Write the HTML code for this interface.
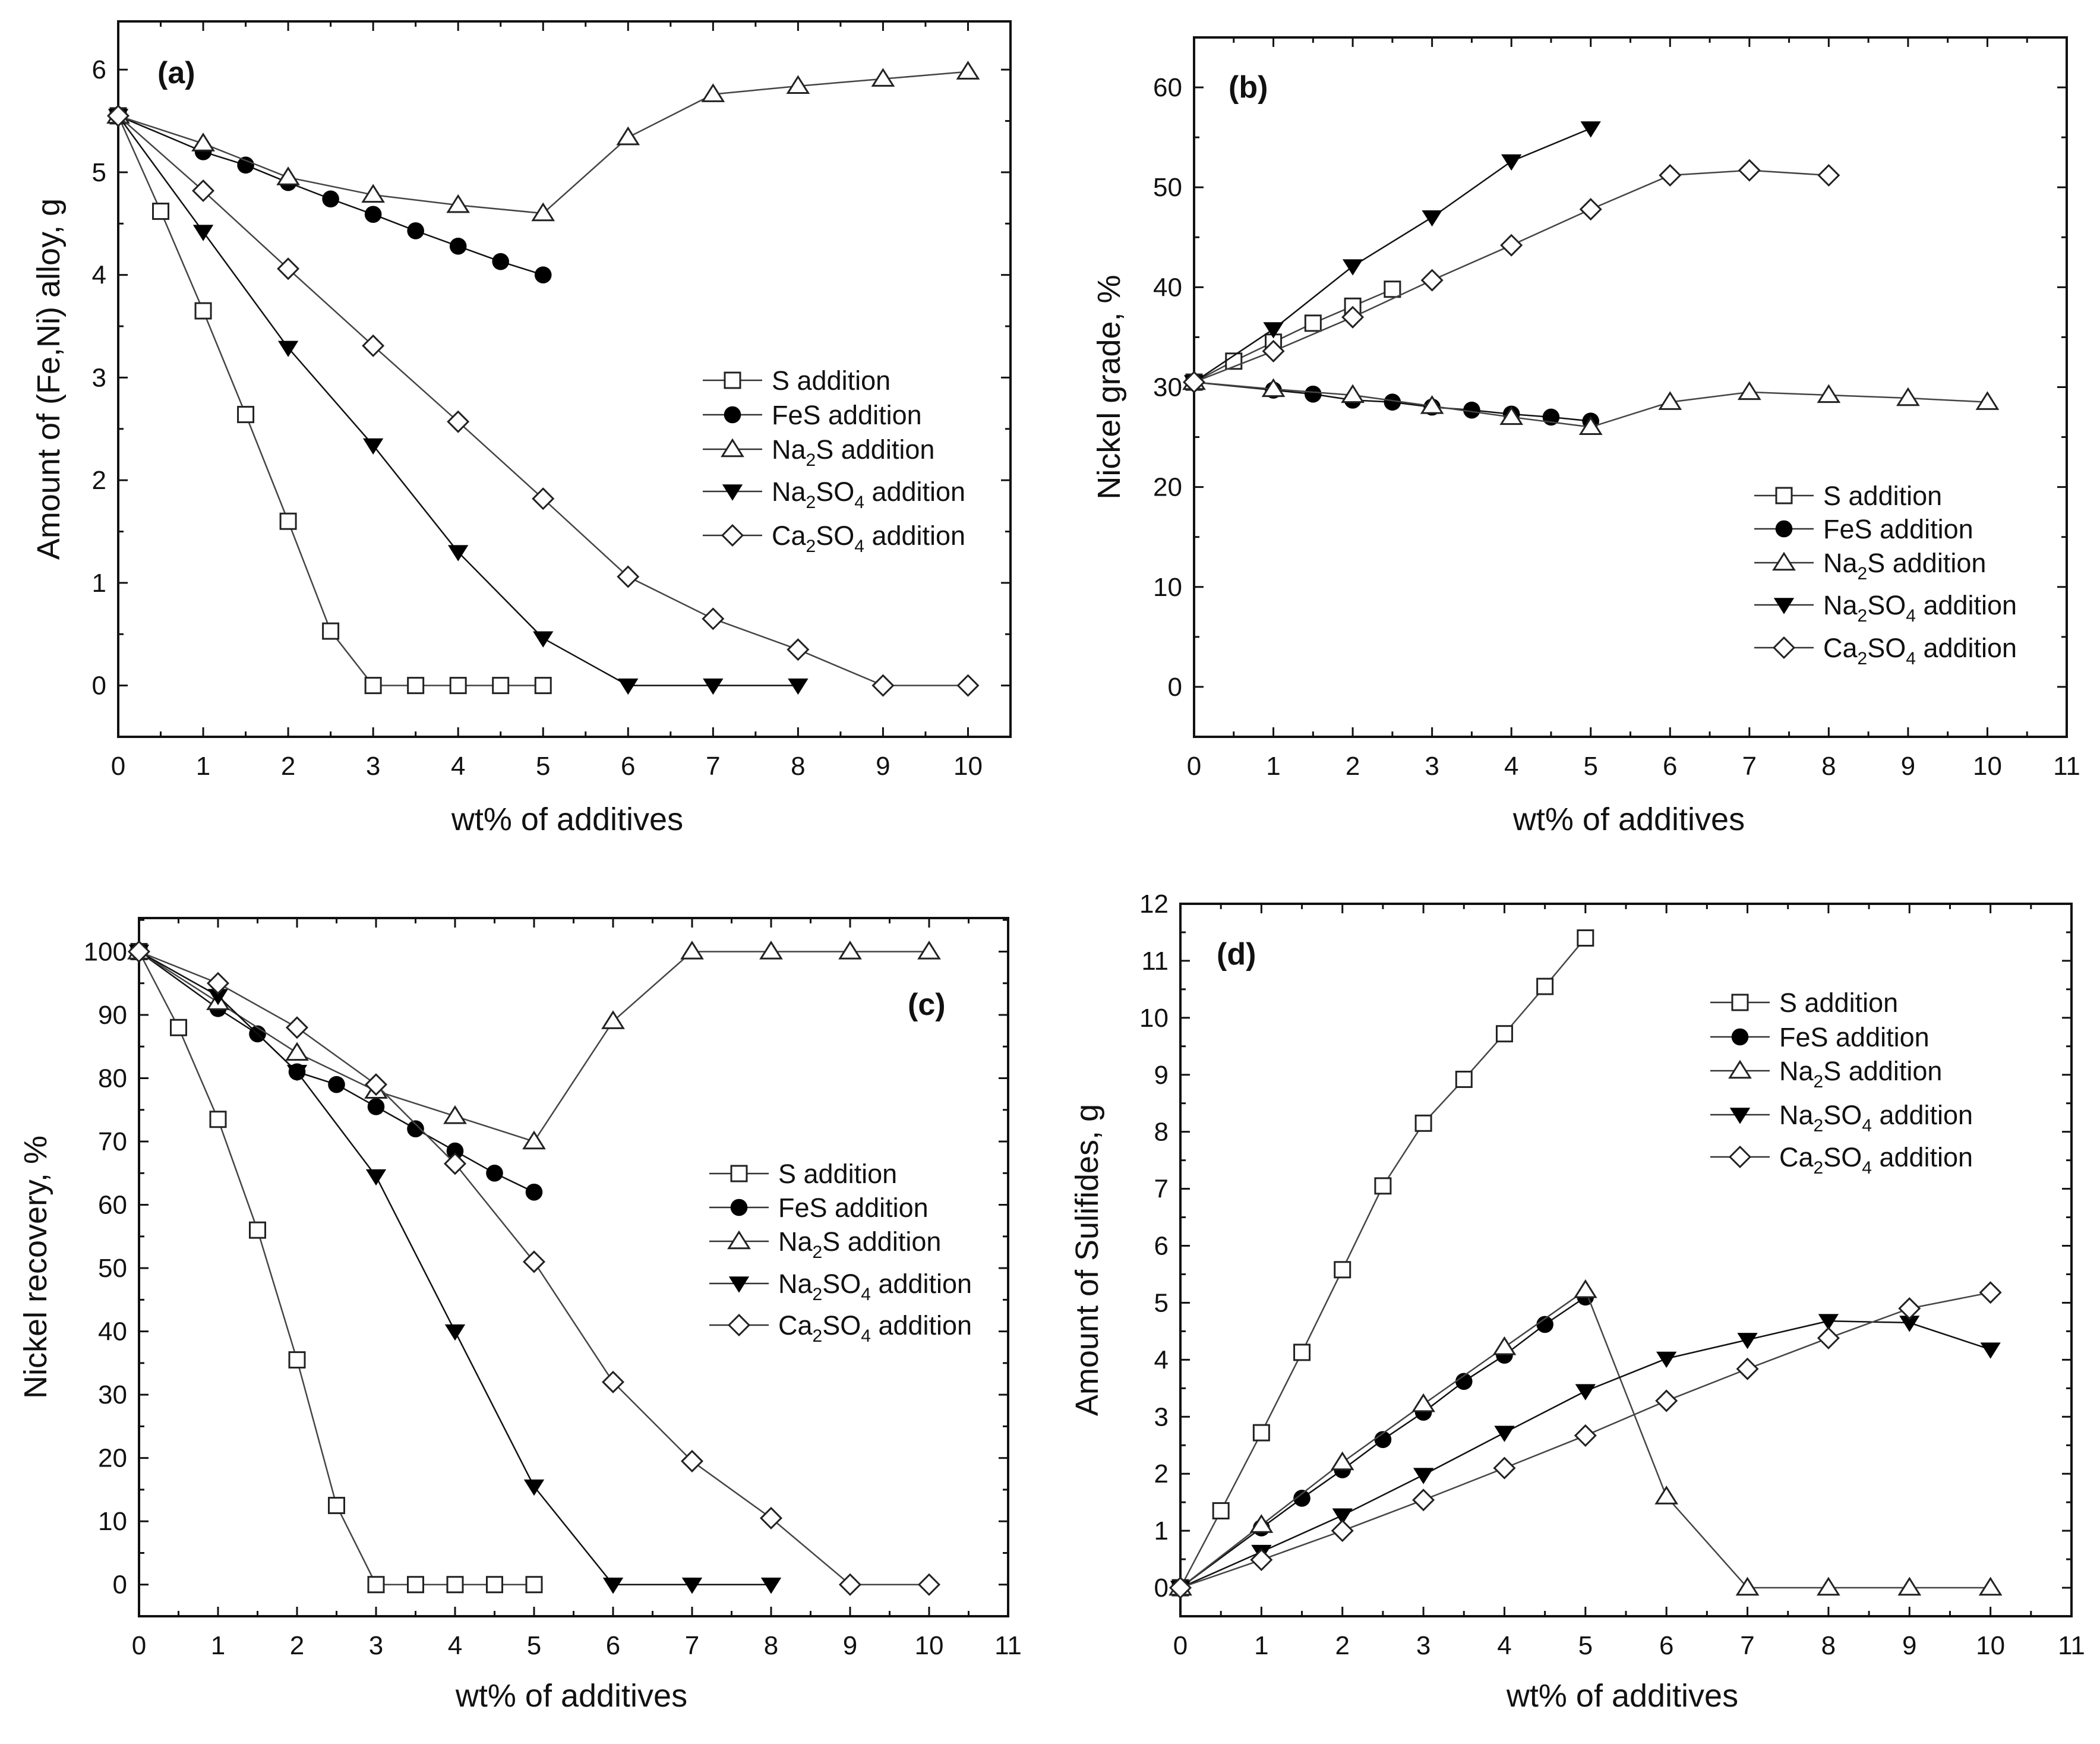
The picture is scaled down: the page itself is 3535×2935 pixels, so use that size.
<!DOCTYPE html>
<html><head><meta charset="utf-8"><style>
html,body{margin:0;padding:0;background:#fff}
svg{display:block}
text{font-family:"Liberation Sans",Arial,sans-serif;fill:#111}
</style></head><body>
<svg id="fig" width="3535" height="2935" viewBox="0 0 3535 2935" xmlns="http://www.w3.org/2000/svg"></svg>
<script>
// ---- data ----
const xHalf5 = [0,0.5,1,1.5,2,2.5,3,3.5,4,4.5,5];
const xFeS = [0,1,1.5,2,2.5,3,3.5,4,4.5,5];
const xInt10 = [0,1,2,3,4,5,6,7,8,9,10];
const xInt8 = [0,1,2,3,4,5,6,7,8];
const xInt5 = [0,1,2,3,4,5];
const xS_b = [0,0.5,1,1.5,2,2.5];

const aS = [5.55,4.62,3.65,2.64,1.6,0.53,0,0,0,0,0];
const aFeS = [5.55,5.2,5.07,4.9,4.74,4.59,4.43,4.28,4.13,4.0];
const aNa2S = [5.55,5.28,4.95,4.78,4.68,4.6,5.34,5.76,5.84,5.91,5.98];
const aNa2SO4 = [5.55,4.42,3.29,2.34,1.3,0.46,0,0,0];
const aCaSO4 = [5.55,4.82,4.06,3.31,2.57,1.82,1.06,0.65,0.35,0,0];

const bS = [30.5,32.6,34.5,36.4,38.1,39.8];
const bFeS = [30.5,29.7,29.3,28.7,28.5,28.0,27.7,27.3,27.0,26.6];
const bNa2S = [30.5,29.8,29.2,28.1,27.0,26.0,28.5,29.5,29.2,28.9,28.5];
const bNa2SO4 = [30.5,35.8,42.1,47.0,52.6,55.9];
const bCaSO4 = [30.5,33.6,37.0,40.7,44.2,47.8,51.2,51.7,51.2];

const cS = [100,88,73.5,56,35.5,12.5,0,0,0,0,0];
const cFeS = [100,91,87,81,79,75.5,72,68.5,65,62];
const cNa2S = [100,92,84,78,74,70,89,100,100,100,100];
const cNa2SO4 = [100,93,81,64.5,40,15.5,0,0,0];
const cCaSO4 = [100,95,88,79,66.5,51,32,19.5,10.5,0,0];

const dS = [0,1.35,2.72,4.13,5.58,7.05,8.15,8.92,9.72,10.55,11.4];
const dFeS = [0,1.05,1.57,2.07,2.6,3.08,3.62,4.08,4.62,5.1];
const dNa2S = [0,1.1,2.2,3.22,4.22,5.22,1.6,0,0,0,0];
const dNa2SO4 = [0,0.63,1.27,1.98,2.72,3.45,4.02,4.35,4.68,4.65,4.18];
const dCaSO4 = [0,0.49,1.0,1.54,2.1,2.67,3.28,3.84,4.38,4.9,5.18];

const xTicksA = [0,1,2,3,4,5,6,7,8,9,10];
const xTicks11 = [0,1,2,3,4,5,6,7,8,9,10,11];
const yTicksA = [0,1,2,3,4,5,6];
const yTicksB = [0,10,20,30,40,50,60];
const yTicksC = [0,10,20,30,40,50,60,70,80,90,100];
const yTicksD = [0,1,2,3,4,5,6,7,8,9,10,11,12];

const NS='http://www.w3.org/2000/svg';
const svg=document.getElementById('fig');
function el(tag,attrs,parent){const e=document.createElementNS(NS,tag);for(const k in attrs)e.setAttribute(k,attrs[k]);(parent||svg).appendChild(e);return e;}

function marker(g,type,cx,cy,s){
  let m;
  if(type==='sq'){m=el('rect',{x:cx-s/2,y:cy-s/2,width:s,height:s,fill:'#fff',stroke:'#222','stroke-width':3},g);}
  else if(type==='ci'){m=el('circle',{cx:cx,cy:cy,r:s*0.55,fill:'#000'},g);}
  else if(type==='tu'){const h=s*0.6;m=el('polygon',{points:`${cx},${cy-h} ${cx-h*1.1},${cy+h*0.75} ${cx+h*1.1},${cy+h*0.75}`,fill:'#fff',stroke:'#222','stroke-width':3},g);}
  else if(type==='td'){const h=s*0.6;m=el('polygon',{points:`${cx},${cy+h} ${cx-h*1.1},${cy-h*0.75} ${cx+h*1.1},${cy-h*0.75}`,fill:'#000'},g);}
  else {const h=s*0.65;m=el('polygon',{points:`${cx},${cy-h} ${cx+h},${cy} ${cx},${cy+h} ${cx-h},${cy}`,fill:'#fff',stroke:'#222','stroke-width':3},g);}
  
  
  return m;
}

function legendLabel(g,x,y,parts){
  const t=el('text',{x:x,y:y,'font-size':45},g);
  parts.forEach(p=>{
    const ts=el('tspan',{},t);
    if(p.sub){ts.setAttribute('font-size',30);ts.setAttribute('dy',12);}
    else if(p.after){ts.setAttribute('dy',-12);}
    ts.textContent=p.t;
  });
  return t;
}

function panel(cfg){
  const g=el('g',{});
  
  
  const {L,R,T,B,xmin,xmax,ymin,ymax}=cfg;
  const sx=v=>L+(v-xmin)/(xmax-xmin)*(R-L);
  const sy=v=>B-(v-ymin)/(ymax-ymin)*(B-T);
  const frame=el('rect',{x:L,y:T,width:R-L,height:B-T,fill:'none',stroke:'#111','stroke-width':4},g);
  
  
  for(let v=xmin;v<=xmax+1e-9;v+=0.5){
    const major=Math.abs(v-Math.round(v))<1e-9;const len=major?16:9;const x=sx(v);
    el('line',{x1:x,y1:B,x2:x,y2:B-len,stroke:'#111','stroke-width':3},g);
    el('line',{x1:x,y1:T,x2:x,y2:T+len,stroke:'#111','stroke-width':3},g);
  }
  cfg.xticks.forEach(v=>{const t=el('text',{x:sx(v),y:B+64,'font-size':44,'text-anchor':'middle'},g);t.textContent=v;
    });
  const ystep=cfg.ystep;
  for(let v=ymin;v<=ymax+1e-9;v+=ystep/2){
    const major=Math.abs(v/ystep-Math.round(v/ystep))<1e-9;const len=major?16:9;const y=sy(v);
    el('line',{x1:L,y1:y,x2:L+len,y2:y,stroke:'#111','stroke-width':3},g);
    el('line',{x1:R,y1:y,x2:R-len,y2:y,stroke:'#111','stroke-width':3},g);
  }
  cfg.yticks.forEach(v=>{const t=el('text',{x:L-20,y:sy(v)+15,'font-size':44,'text-anchor':'end'},g);t.textContent=v;
    });
  const xt=el('text',{x:cfg.xtx,y:cfg.xty,'font-size':54,'text-anchor':'middle'},g);xt.textContent='wt% of additives';
  
  const yc=(T+B)/2;
  const yt=el('text',{x:cfg.ytx,y:yc,'font-size':54,'text-anchor':'middle',transform:`rotate(-90 ${cfg.ytx} ${yc})`},g);yt.textContent=cfg.ytitle;
  
  const pl=el('text',{x:cfg.lx,y:cfg.ly,'font-size':52,'font-weight':'bold'},g);pl.textContent=cfg.label;
  
  cfg.series.forEach(s=>{
    const sg=el('g',{},g);
    
    
    const pts=s.x.map((xv,i)=>sx(xv)+','+sy(s.y[i])).join(' ');
    el('polyline',{points:pts,fill:'none',stroke:s.m==='ci'||s.m==='td'?'#111':'#444','stroke-width':2.5},sg);
    s.x.forEach((xv,i)=>marker(sg,s.m,sx(xv),sy(s.y[i]),26));
  });
  const lg=el('g',{},g);
  
  
  const names=[[{t:'S addition'}],[{t:'FeS addition'}],[{t:'Na'},{t:'2',sub:1},{t:'S addition',after:1}],
    [{t:'Na'},{t:'2',sub:1},{t:'SO',after:1},{t:'4',sub:1},{t:' addition',after:1}],
    [{t:'Ca'},{t:'2',sub:1},{t:'SO',after:1},{t:'4',sub:1},{t:' addition',after:1}]];
  const mk=['sq','ci','tu','td','di'];
  cfg.legY.forEach((y,i)=>{
    const e=el('g',{},lg);
    
    
    el('line',{x1:cfg.legX,y1:y,x2:cfg.legX+100,y2:y,stroke:'#333','stroke-width':2.5},e);
    marker(e,mk[i],cfg.legX+50,y,26);
    legendLabel(e,cfg.legX+116,y+16,names[i]);
  });
}

panel({name:'panel-a',L:199,R:1701,T:36,B:1240,xmin:0,xmax:10.5,ymin:-0.5,ymax:6.47,ystep:1,
  xticks:xTicksA,yticks:yTicksA,xtx:955,xty:1397,ytx:100,ytitle:'Amount of (Fe,Ni) alloy, g',label:'(a)',lx:265,ly:140,
  legX:1183,legY:[640,698,756,827,901],
  series:[{key:'s',m:'sq',x:xHalf5,y:aS},{key:'fes',m:'ci',x:xFeS,y:aFeS},{key:'na2s',m:'tu',x:xInt10,y:aNa2S},
  {key:'na2so4',m:'td',x:xInt8,y:aNa2SO4},{key:'caso4',m:'di',x:xInt10,y:aCaSO4}]});

panel({name:'panel-b',L:2010,R:3479,T:63,B:1240,xmin:0,xmax:11,ymin:-5,ymax:65,ystep:10,
  xticks:xTicks11,yticks:yTicksB,xtx:2742,xty:1397,ytx:1885,ytitle:'Nickel grade, %',label:'(b)',lx:2068,ly:164,
  legX:2953,legY:[834,890,947,1018,1090],
  series:[{key:'s',m:'sq',x:xS_b,y:bS},{key:'fes',m:'ci',x:xFeS,y:bFeS},{key:'na2s',m:'tu',x:xInt10,y:bNa2S},
  {key:'na2so4',m:'td',x:xInt5,y:bNa2SO4},{key:'caso4',m:'di',x:xInt8,y:bCaSO4}]});

panel({name:'panel-c',L:234,R:1697,T:1545,B:2720,xmin:0,xmax:11,ymin:-5,ymax:105.3,ystep:10,
  xticks:xTicks11,yticks:yTicksC,xtx:962,xty:2872,ytx:78,ytitle:'Nickel recovery, %',label:'(c)',lx:1528,ly:1708,
  legX:1194,legY:[1975,2032,2089,2160,2230],
  series:[{key:'s',m:'sq',x:xHalf5,y:cS},{key:'fes',m:'ci',x:xFeS,y:cFeS},{key:'na2s',m:'tu',x:xInt10,y:cNa2S},
  {key:'na2so4',m:'td',x:xInt8,y:cNa2SO4},{key:'caso4',m:'di',x:xInt10,y:cCaSO4}]});

panel({name:'panel-d',L:1987,R:3487,T:1521,B:2720,xmin:0,xmax:11,ymin:-0.5,ymax:12,ystep:1,
  xticks:xTicks11,yticks:yTicksD,xtx:2731,xty:2872,ytx:1848,ytitle:'Amount of Sulifides, g',label:'(d)',lx:2048,ly:1623,
  legX:2879,legY:[1687,1745,1802,1876,1947],
  series:[{key:'s',m:'sq',x:xHalf5,y:dS},{key:'fes',m:'ci',x:xFeS,y:dFeS},{key:'na2s',m:'tu',x:xInt10,y:dNa2S},
  {key:'na2so4',m:'td',x:xInt10,y:dNa2SO4},{key:'caso4',m:'di',x:xInt10,y:dCaSO4}]});
</script>
</body></html>
